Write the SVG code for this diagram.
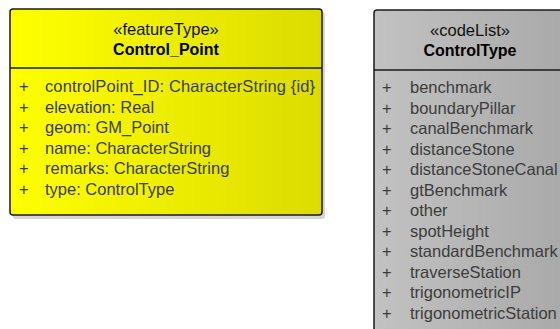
<svg xmlns="http://www.w3.org/2000/svg" width="560" height="329" viewBox="0 0 560 329">
<defs>
<linearGradient id="gy" x1="0" y1="0" x2="1" y2="0">
<stop offset="0" stop-color="#FFFF00"/>
<stop offset="1" stop-color="#DCDC00"/>
</linearGradient>
<linearGradient id="gg" x1="0" y1="0" x2="1" y2="0">
<stop offset="0" stop-color="#C2C2C2"/>
<stop offset="1" stop-color="#A8A8A8"/>
</linearGradient>
</defs>
<style>
.box{stroke:#1a1a1a;stroke-width:1.5}
.shadow{fill:#d6d6d6}
.div{stroke:#1a1a1a;stroke-width:1.5}
text{font-family:"Liberation Sans",Arial,sans-serif}
.st{font-size:16.5px;fill:#111;text-anchor:middle}
.nm{font-size:16px;font-weight:bold;fill:#000;text-anchor:middle}
.at{font-size:16.5px;fill:#3c3c3c}
</style>
<rect width="560" height="329" fill="#ffffff"/>
<g id="Control_Point">
<rect class="shadow" x="13" y="12" width="312" height="207" rx="3"/>
<rect class="box" x="10" y="9" width="312" height="206" rx="3" fill="url(#gy)"/>
<line class="div" x1="10" y1="68" x2="322" y2="68"/>
<text class="st" x="166" y="35">«featureType»</text>
<text class="nm" x="166" y="55">Control_Point</text>
<g class="at">
<text x="19" y="92">+</text><text x="45" y="92" textLength="270" lengthAdjust="spacing">controlPoint_ID: CharacterString {id}</text>
<text x="19" y="112.5">+</text><text x="45" y="112.5">elevation: Real</text>
<text x="19" y="133">+</text><text x="45" y="133">geom: GM_Point</text>
<text x="19" y="153.5">+</text><text x="45" y="153.5">name: CharacterString</text>
<text x="19" y="174">+</text><text x="45" y="174">remarks: CharacterString</text>
<text x="19" y="194.5">+</text><text x="45" y="194.5">type: ControlType</text>
</g>
</g>
<g id="ControlType">
<rect class="shadow" x="377" y="13" width="200" height="330" rx="3"/>
<rect class="box" x="374" y="10" width="200" height="330" rx="3" fill="url(#gg)"/>
<line class="div" x1="374" y1="70" x2="574" y2="70"/>
<text class="st" x="470" y="36">«codeList»</text>
<text class="nm" x="470" y="56">ControlType</text>
<g class="at">
<text x="382" y="93">+</text><text x="410" y="93">benchmark</text>
<text x="382" y="113.5">+</text><text x="410" y="113.5">boundaryPillar</text>
<text x="382" y="134">+</text><text x="410" y="134">canalBenchmark</text>
<text x="382" y="154.5">+</text><text x="410" y="154.5">distanceStone</text>
<text x="382" y="175">+</text><text x="410" y="175">distanceStoneCanal</text>
<text x="382" y="195.5">+</text><text x="410" y="195.5">gtBenchmark</text>
<text x="382" y="216">+</text><text x="410" y="216">other</text>
<text x="382" y="236.5">+</text><text x="410" y="236.5">spotHeight</text>
<text x="382" y="257">+</text><text x="410" y="257">standardBenchmark</text>
<text x="382" y="277.5">+</text><text x="410" y="277.5">traverseStation</text>
<text x="382" y="298">+</text><text x="410" y="298">trigonometricIP</text>
<text x="382" y="318.5">+</text><text x="410" y="318.5">trigonometricStation</text>
</g>
</g>
<g id="connectors"></g>
</svg>
